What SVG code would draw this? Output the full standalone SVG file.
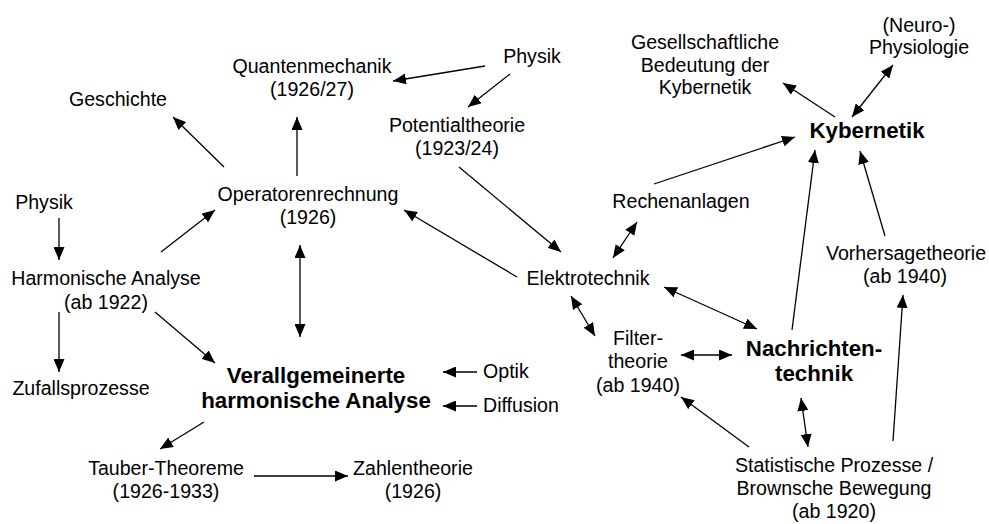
<svg xmlns="http://www.w3.org/2000/svg" width="989" height="524" viewBox="0 0 989 524">
<style>
text{font-family:"Liberation Sans",Arial,sans-serif;font-size:19.6px;fill:#000;text-anchor:middle}
text.b{font-weight:bold;font-size:22.3px}
text.l{text-anchor:start}
#connectors line{stroke:#000;stroke-width:1.3;fill:none}
.a{marker-end:url(#ah)}
.d{marker-end:url(#ah);marker-start:url(#ah)}
</style>
<defs>
<marker id="ah" markerUnits="userSpaceOnUse" markerWidth="13" markerHeight="11" refX="13" refY="5.5" orient="auto-start-reverse" viewBox="0 0 13 11">
<path d="M0,0 L13,5.5 L0,11 z" fill="#000"/>
</marker>
</defs>
<rect width="989" height="524" fill="#fff"/>
<g id="connectors">
<line class="a" x1="485" y1="66" x2="393" y2="81"/>
<line class="a" x1="510" y1="74" x2="468" y2="107"/>
<line class="a" x1="224" y1="167" x2="173" y2="117"/>
<line class="a" x1="297" y1="176" x2="297" y2="117"/>
<line class="a" x1="161" y1="252" x2="215" y2="210"/>
<line class="a" x1="59" y1="218" x2="59" y2="260"/>
<line class="a" x1="517" y1="277" x2="404" y2="210"/>
<line class="a" x1="459" y1="167" x2="561" y2="252"/>
<line class="d" x1="300" y1="245" x2="300" y2="337"/>
<line class="a" x1="835" y1="117" x2="783" y2="83"/>
<line class="d" x1="852" y1="117" x2="893" y2="65"/>
<line class="a" x1="654" y1="184" x2="795" y2="137"/>
<line class="d" x1="613" y1="258" x2="637" y2="222"/>
<line class="a" x1="792" y1="330" x2="815" y2="150"/>
<line class="a" x1="885" y1="236" x2="860" y2="151"/>
<line class="d" x1="664" y1="287" x2="757" y2="329"/>
<line class="d" x1="571" y1="296" x2="595" y2="336"/>
<line class="d" x1="681" y1="355" x2="732" y2="355"/>
<line class="a" x1="749" y1="447" x2="681" y2="397"/>
<line class="d" x1="801" y1="398" x2="808" y2="447"/>
<line class="a" x1="893" y1="441" x2="903" y2="295"/>
<line class="a" x1="59" y1="312" x2="59" y2="372"/>
<line class="a" x1="155" y1="312" x2="215" y2="363"/>
<line class="a" x1="477" y1="372" x2="443" y2="372"/>
<line class="a" x1="477" y1="406" x2="443" y2="406"/>
<line class="a" x1="204" y1="422" x2="160" y2="449"/>
<line class="a" x1="254" y1="476" x2="348" y2="476"/>
</g>
<g id="quantenmechanik"><text x="312" y="73">Quantenmechanik</text><text x="312" y="96">(1926/27)</text></g>
<g id="physik-top"><text x="532" y="63">Physik</text></g>
<g id="geschichte"><text x="118" y="106">Geschichte</text></g>
<g id="potentialtheorie"><text x="457" y="132">Potentialtheorie</text><text x="457" y="155">(1923/24)</text></g>
<g id="operatorenrechnung"><text x="308" y="201">Operatorenrechnung</text><text x="308" y="224">(1926)</text></g>
<g id="physik-left"><text x="44" y="209">Physik</text></g>
<g id="harmonische-analyse"><text x="106" y="285">Harmonische Analyse</text><text x="106" y="309">(ab 1922)</text></g>
<g id="zufallsprozesse"><text x="81" y="395">Zufallsprozesse</text></g>
<g id="verallgemeinerte"><text class="b" x="316" y="383">Verallgemeinerte</text><text class="b" x="316" y="408">harmonische Analyse</text></g>
<g id="optik"><text class="l" x="483" y="378">Optik</text></g>
<g id="diffusion"><text class="l" x="483" y="412">Diffusion</text></g>
<g id="tauber"><text x="166" y="475">Tauber-Theoreme</text><text x="166" y="498">(1926-1933)</text></g>
<g id="zahlentheorie"><text x="413" y="475">Zahlentheorie</text><text x="413" y="498">(1926)</text></g>
<g id="gesellschaftliche"><text x="705" y="49">Gesellschaftliche</text><text x="705" y="72">Bedeutung der</text><text x="705" y="94">Kybernetik</text></g>
<g id="neurophysiologie"><text x="919" y="32">(Neuro-)</text><text x="919" y="54">Physiologie</text></g>
<g id="kybernetik"><text class="b" x="867" y="138">Kybernetik</text></g>
<g id="rechenanlagen"><text x="681" y="208">Rechenanlagen</text></g>
<g id="vorhersagetheorie"><text x="906" y="260">Vorhersagetheorie</text><text x="905" y="283">(ab 1940)</text></g>
<g id="elektrotechnik"><text x="588" y="285">Elektrotechnik</text></g>
<g id="filtertheorie"><text x="638" y="345">Filter-</text><text x="638" y="368">theorie</text><text x="638" y="392">(ab 1940)</text></g>
<g id="nachrichtentechnik"><text class="b" x="814" y="356">Nachrichten-</text><text class="b" x="814" y="381">technik</text></g>
<g id="statistische"><text x="834" y="472">Statistische Prozesse /</text><text x="834" y="495">Brownsche Bewegung</text><text x="834" y="518">(ab 1920)</text></g>
</svg>
